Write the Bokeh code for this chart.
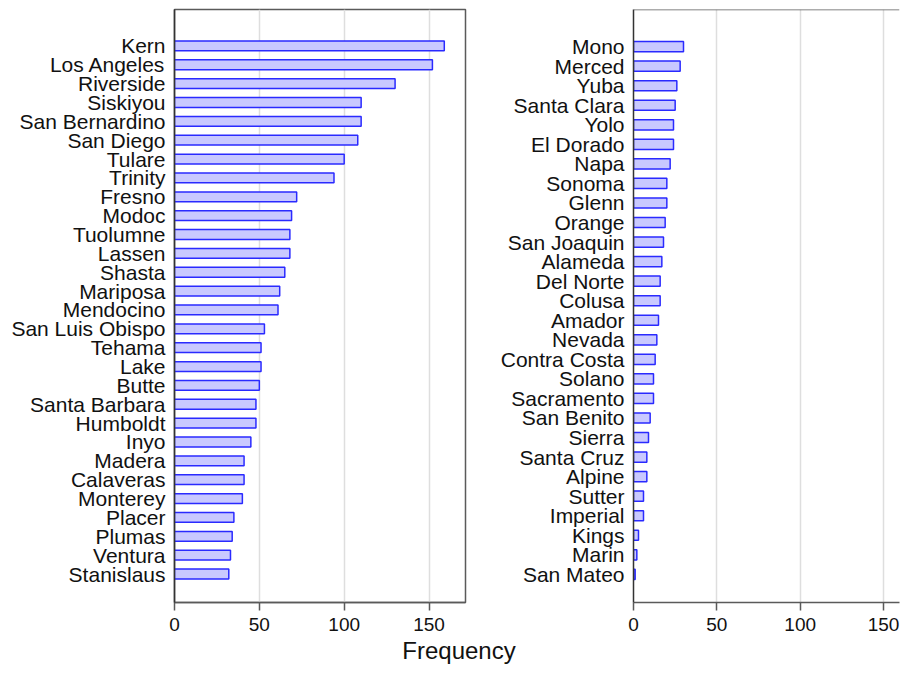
from bokeh.plotting import figure
from bokeh.models import ColumnDataSource, Range1d, FixedTicker, Span, Div
from bokeh.layouts import row, column
from bokeh.embed import file_html
from bokeh.resources import INLINE

left_counties = ["Kern", "Los Angeles", "Riverside", "Siskiyou", "San Bernardino", "San Diego",
                 "Tulare", "Trinity", "Fresno", "Modoc", "Tuolumne", "Lassen", "Shasta", "Mariposa",
                 "Mendocino", "San Luis Obispo", "Tehama", "Lake", "Butte", "Santa Barbara",
                 "Humboldt", "Inyo", "Madera", "Calaveras", "Monterey", "Placer", "Plumas",
                 "Ventura", "Stanislaus"]
left_counts = [159, 152, 130, 110, 110, 108, 100, 94, 72, 69, 68, 68, 65, 62, 61, 53, 51, 51, 50,
               48, 48, 45, 41, 41, 40, 35, 34, 33, 32]

right_counties = ["Mono", "Merced", "Yuba", "Santa Clara", "Yolo", "El Dorado", "Napa", "Sonoma",
                  "Glenn", "Orange", "San Joaquin", "Alameda", "Del Norte", "Colusa", "Amador",
                  "Nevada", "Contra Costa", "Solano", "Sacramento", "San Benito", "Sierra",
                  "Santa Cruz", "Alpine", "Sutter", "Imperial", "Kings", "Marin", "San Mateo"]
right_counts = [30, 28, 26, 25, 24, 24, 22, 20, 20, 19, 18, 17, 16, 16, 15, 14, 13, 12, 12, 10, 9,
                8, 8, 6, 6, 3, 2, 1]

x_ticks = [0, 50, 100, 150]
x_label = "Frequency"

FONT = "Liberation Sans"
FILL = "#c9c9ff"
LINE = "#2a2aff"
FRAME = "#5a5a5a"
PANEL_H = 639


def make_panel(names, counts, width, border_left, border_right, x_end, y_range, show_outline):
    n = len(names)
    ys = [n - 1 - i for i in range(n)]
    src = ColumnDataSource(dict(y=ys, v=counts, name=names))
    p = figure(width=width, height=PANEL_H, toolbar_location=None, output_backend="svg",
               x_range=Range1d(0, x_end), y_range=Range1d(*y_range),
               min_border_left=border_left, min_border_right=border_right,
               min_border_top=9, min_border_bottom=37)
    p.hbar(y="y", right="v", left=0, height=0.52, source=src,
           fill_color=FILL, line_color=LINE, line_width=1.5)
    p.yaxis.ticker = FixedTicker(ticks=ys)
    p.yaxis.major_label_overrides = {y: nm for y, nm in zip(ys, names)}
    p.yaxis.major_tick_line_color = None
    p.yaxis.minor_tick_line_color = None
    p.yaxis.major_tick_out = 0
    p.yaxis.major_tick_in = 0
    p.yaxis.major_label_standoff = 9
    p.yaxis.axis_line_color = "#333333"
    p.yaxis.axis_line_width = 1.5
    p.yaxis.major_label_text_font_size = "21px"
    p.xaxis.ticker = FixedTicker(ticks=x_ticks)
    p.xaxis.minor_tick_line_color = None
    p.xaxis.major_tick_out = 8
    p.xaxis.major_tick_in = 0
    p.xaxis.major_tick_line_color = FRAME
    p.xaxis.major_tick_line_width = 1.5
    p.xaxis.axis_line_color = FRAME
    p.xaxis.axis_line_width = 1.5
    p.xaxis.major_label_standoff = 7
    p.xaxis.major_label_text_font_size = "19px"
    for ax in (p.xaxis, p.yaxis):
        ax.major_label_text_font = FONT
        ax.major_label_text_color = "#111111"
    p.ygrid.grid_line_color = None
    p.xgrid.grid_line_color = "#dedede"
    p.xgrid.grid_line_width = 1.5
    p.xgrid.ticker = FixedTicker(ticks=x_ticks)
    if show_outline:
        p.outline_line_color = FRAME
        p.outline_line_width = 1.5
    else:
        p.outline_line_color = None
        p.add_layout(Span(location=y_range[1], dimension="width",
                          line_color=FRAME, line_width=1.5))
    p.background_fill_color = "white"
    p.border_fill_color = "white"
    return p


p1 = make_panel(left_counties, left_counts, 480, 174, 15, 171.5, (-1.51, 29.93), True)
p2 = make_panel(right_counties, right_counts, 421, 153, 2, 159.6, (-1.44, 28.90), False)

label_div = Div(text=x_label, width=901, height=24, margin=(0, 0, 0, 0),
                styles={"font-family": FONT, "font-size": "24px", "line-height": "24px",
                        "color": "#111111", "text-align": "center", "padding-left": "17px",
                        "box-sizing": "border-box"})

layout = column(row(p1, p2), label_div)
open("out.html", "w").write(file_html(layout, INLINE))
